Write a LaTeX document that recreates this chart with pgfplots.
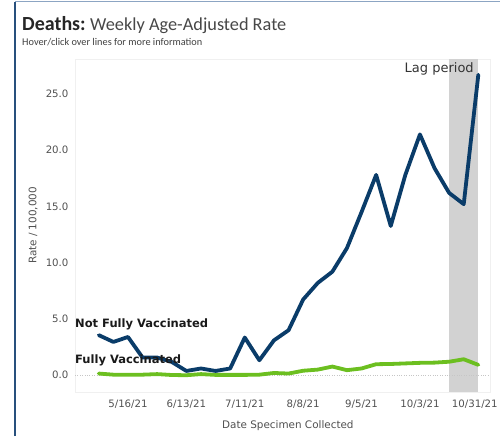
\documentclass[border=0pt]{standalone}
\usepackage{fontspec}
\setmainfont{DejaVu Sans}
\newfontfamily\carlito{Carlito}
\usepackage{pgfplots}
\pgfplotsset{compat=1.18}
\definecolor{navy}{RGB}{10,60,105}
\definecolor{lgreen}{RGB}{108,191,32}
\definecolor{frameblue}{RGB}{40,80,125}
\definecolor{topblue}{RGB}{140,165,195}
\definecolor{tickgray}{RGB}{80,80,80}
\begin{document}
\begin{tikzpicture}
\useasboundingbox (0pt,0pt) rectangle (500pt,436pt);
\draw[frameblue, line width=1.3pt] (15pt,0pt) -- (15pt,434pt);
\draw[topblue, line width=1pt] (15pt,434pt) -- (500pt,434pt);
\node[anchor=base west, inner sep=0] at (22pt,405pt) {\carlito\fontsize{20}{22}\selectfont\color{black!85}\textbf{Deaths:}\ \fontsize{18.3}{20}\selectfont\color{black!72}Weekly Age-Adjusted Rate};
\node[anchor=base west, inner sep=0] at (22pt,390pt) {\carlito\fontsize{10.3}{12}\selectfont\color{black!75}Hover/click over lines for more information};
\begin{axis}[
  at={(75pt,44pt)}, anchor=south west, scale only axis,
  width=415pt, height=333pt,
  xmin=-1.63, xmax=26.8, ymin=-1.49, ymax=28.1,
  axis line style={draw=gray!12},
  major tick length=0pt,
  xtick={2,6,10,14,18,22,26},
  xticklabels={5/16/21,6/13/21,7/11/21,8/8/21,9/5/21,10/3/21,\hspace*{-7pt}10/31/21},
  ytick={0,5,10,15,20,25},
  /pgf/number format/fixed, /pgf/number format/fixed zerofill, /pgf/number format/precision=1,
  /pgf/number format/assume math mode=true,
  tick label style={font=\fontsize{10.2}{12}\selectfont, text=tickgray},
  xticklabel style={yshift=-4pt},
  yticklabel style={xshift=-3pt},
  xlabel={Date Specimen Collected},
  ylabel={Rate / 100,000},
  label style={font=\fontsize{10.4}{12}\selectfont, text=tickgray},
  xlabel style={at={(axis description cs:0.513,-0.102)}, anchor=center},
  ylabel style={at={(axis description cs:-0.101,0.5)}, anchor=center},
  clip=false,
]
\fill[gray!35] (axis cs:24,-1.49) rectangle (axis cs:26,28.1);
\addplot[gray!45, dotted, thin] coordinates {(-1.63,0) (26.8,0)};
\addplot[lgreen, line width=3.8pt, line join=round, line cap=round] coordinates {
(0,0.15)(1,0.05)(2,0.05)(3,0.05)(4,0.1)(5,0.02)(6,0.0)(7,0.1)(8,0.03)(9,0.03)
(10,0.03)(11,0.05)(12,0.2)(13,0.15)(14,0.4)(15,0.5)(16,0.77)(17,0.45)(18,0.6)
(19,0.98)(20,1.0)(21,1.05)(22,1.1)(23,1.12)(24,1.2)(25,1.42)(26,0.92)};
\addplot[navy, line width=3.8pt, line join=round, line cap=round] coordinates {
(0,3.56)(1,2.96)(2,3.4)(3,1.57)(4,1.57)(5,1.18)(6,0.38)(7,0.6)(8,0.38)(9,0.6)
(10,3.35)(11,1.33)(12,3.1)(13,4.0)(14,6.73)(15,8.2)(16,9.2)(17,11.3)(18,14.5)
(19,17.8)(20,13.26)(21,17.8)(22,21.4)(23,18.4)(24,16.2)(25,15.2)(26,26.7)};
\node[anchor=base east, inner sep=0, font=\fontsize{13}{15}\selectfont, text=black!80] at (axis cs:25.7,26.9) {Lag period};
\node[anchor=base west, inner sep=0, font=\bfseries\fontsize{11.5}{13}\selectfont, text=black!90] at (axis cs:-1.63,4.2) {Not Fully Vaccinated};
\node[anchor=base west, inner sep=0, font=\bfseries\fontsize{11.5}{13}\selectfont, text=black!90] at (axis cs:-1.63,1.0) {Fully Vaccinated};
\end{axis}
\end{tikzpicture}
\end{document}
